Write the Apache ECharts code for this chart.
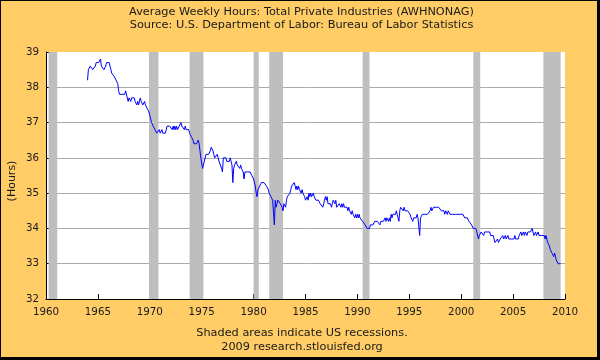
<!DOCTYPE html>
<html><head><meta charset="utf-8">
<script src="https://cdn.jsdelivr.net/npm/echarts@6/dist/echarts.min.js"></script>
<style>html,body{margin:0;padding:0;background:#FFCC66}#c{width:600px;height:360px}</style>
</head><body><div id="c"></div>
<script>
// Monthly average weekly hours, first value = January 1964
const startYear = 1964;
const hours1960s = [
  38.2,38.5,38.5,38.6,38.6,38.6,38.5,38.5,38.5,38.6,38.7,38.7,
  38.7,38.7,38.7,38.8,38.6,38.6,38.6,38.5,38.5,38.6,38.7,38.7,
  38.7,38.7,38.6,38.5,38.4,38.4,38.4,38.3,38.3,38.2,38.2,38.1,
  37.9,37.8,37.8,37.8,37.8,37.8,37.8,37.8,37.9,37.9,37.7,37.6,
  37.7,37.7,37.6,37.7,37.7,37.7,37.7,37.6,37.6,37.5,37.6,37.5,
  37.5,37.7,37.6,37.6,37.5,37.5,37.6,37.5,37.5,37.4,37.4,37.3
];
const hours1970s = [
  37.2,37.1,37.0,37.0,36.9,36.9,36.8,36.8,36.7,36.7,36.7,36.8,
  36.7,36.7,36.8,36.7,36.7,36.7,36.7,36.7,36.9,36.9,36.9,36.9,
  36.9,36.9,36.8,36.9,36.8,36.9,36.8,36.9,36.8,36.8,36.9,36.9,
  37.0,36.9,36.9,36.9,36.8,36.9,36.8,36.8,36.8,36.8,36.7,36.7,
  36.6,36.6,36.5,36.4,36.4,36.4,36.4,36.4,36.5,36.4,36.2,36.0,
  36.0,35.7,35.8,35.9,35.9,36.1,36.1,36.1,36.1,36.1,36.2,36.3,
  36.3,36.2,36.1,36.0,36.0,36.0,36.1,36.0,35.9,35.9,35.9,35.7,
  35.6,36.0,36.0,36.0,36.0,35.9,35.9,35.9,35.9,36.0,35.9,35.8,
  35.3,35.7,35.8,35.8,35.9,35.8,35.8,35.8,35.7,35.8,35.7,35.7,
  35.6,35.4,35.6,35.6,35.6,35.6,35.6,35.6,35.6,35.6,35.5,35.5
];
const hours1980s = [
  35.4,35.4,35.2,35.0,34.9,35.1,35.1,35.2,35.2,35.3,35.3,35.3,
  35.3,35.3,35.3,35.2,35.2,35.1,35.0,35.0,34.9,34.9,34.8,34.8,
  34.1,34.8,34.6,34.7,34.8,34.8,34.8,34.7,34.7,34.6,34.5,34.7,
  34.7,34.6,34.8,34.9,34.9,34.9,35.0,35.1,35.2,35.2,35.2,35.3,
  35.2,35.1,35.2,35.1,35.2,35.1,35.1,35.0,35.1,35.0,35.0,34.9,
  34.8,34.8,34.9,34.8,35.0,34.9,35.0,34.9,34.9,35.0,34.9,34.9,
  34.8,34.8,34.8,34.8,34.8,34.7,34.7,34.7,34.6,34.7,34.8,34.9,
  34.8,34.9,34.7,34.7,34.7,34.7,34.6,34.7,34.8,34.8,34.7,34.8,
  34.6,34.6,34.6,34.7,34.7,34.6,34.7,34.6,34.7,34.6,34.6,34.6,
  34.6,34.5,34.6,34.5,34.5,34.4,34.5,34.4,34.4,34.3,34.4,34.3
];
const hours1990s = [
  34.4,34.3,34.4,34.3,34.3,34.3,34.2,34.2,34.2,34.1,34.1,34.0,
  34.0,34.0,34.0,34.1,34.1,34.1,34.1,34.1,34.2,34.2,34.2,34.2,
  34.2,34.2,34.1,34.2,34.2,34.2,34.2,34.2,34.3,34.2,34.3,34.3,
  34.2,34.3,34.2,34.4,34.3,34.4,34.4,34.4,34.4,34.5,34.4,34.4,
  34.2,34.5,34.6,34.6,34.6,34.5,34.6,34.5,34.5,34.5,34.5,34.5,
  34.5,34.4,34.3,34.3,34.2,34.3,34.3,34.3,34.3,34.4,34.3,34.3,
  33.8,34.3,34.3,34.4,34.4,34.4,34.4,34.4,34.4,34.4,34.4,34.4,
  34.5,34.6,34.5,34.5,34.6,34.6,34.6,34.6,34.6,34.6,34.6,34.6,
  34.6,34.5,34.5,34.5,34.5,34.4,34.5,34.5,34.4,34.5,34.5,34.4,
  34.4,34.4,34.4,34.4,34.4,34.4,34.4,34.4,34.4,34.4,34.4,34.4
];
const hours2000s = [
  34.4,34.4,34.4,34.4,34.3,34.3,34.3,34.3,34.3,34.2,34.2,34.2,
  34.1,34.1,34.0,34.0,34.0,34.0,33.9,33.9,33.7,33.8,33.8,33.9,
  33.9,33.9,33.8,33.9,33.9,33.9,33.9,33.9,33.9,33.9,33.8,33.8,
  33.8,33.8,33.7,33.6,33.6,33.6,33.7,33.6,33.6,33.7,33.7,33.7,
  33.8,33.7,33.7,33.8,33.7,33.7,33.8,33.7,33.7,33.7,33.7,33.7,
  33.7,33.7,33.8,33.7,33.7,33.7,33.7,33.8,33.8,33.9,33.8,33.8,
  33.9,33.8,33.9,33.9,33.8,33.9,33.9,33.9,33.9,33.9,34.0,33.9,
  33.8,33.8,33.9,33.8,33.8,33.9,33.8,33.8,33.8,33.8,33.8,33.8,
  33.8,33.7,33.8,33.7,33.6,33.6,33.5,33.4,33.4,33.3,33.3,33.2,
  33.3,33.2,33.1,33.1,33.0,33.0,33.0,33.0
];
// NBER recessions: [peak month, trough month]
const recessions = [
  ['1960-04','1961-02'],['1969-12','1970-11'],['1973-11','1975-03'],
  ['1980-01','1980-07'],['1981-07','1982-11'],['1990-07','1991-03'],
  ['2001-03','2001-11'],['2007-12','2009-08']
];
const titleLines = ['Average Weekly Hours: Total Private Industries (AWHNONAG)',
  'Source: U.S. Department of Labor: Bureau of Labor Statistics'];
const footerLines = ['Shaded areas indicate US recessions.', '2009 research.stlouisfed.org'];
const yAxisName = '(Hours)';

const allHours = [].concat(hours1960s, hours1970s, hours1980s, hours1990s, hours2000s);
const seriesData = allHours.map((v, i) => [startYear + i / 12, v]);
const toYear = s => { const p = s.split('-'); return +p[0] + (+p[1] - 1) / 12; };

const font = 'DejaVu Sans';
const txt = '#1a1a1a';
const textEl = (s, x, y, rot, size) => ({
  type: 'text', x: x, y: y, rotation: rot || 0, z: 100,
  style: {text: s, fontSize: size || 11.3, fontFamily: font, fill: txt, align: 'center', verticalAlign: 'middle'}
});
const chart = echarts.init(document.getElementById('c'), null, {renderer: 'canvas'});
chart.setOption({
  animation: false,
  backgroundColor: '#FFCC66',
  textStyle: {fontFamily: font},
  graphic: [
    textEl(titleLines[0], 301.5, 12),
    textEl(titleLines[1], 301.5, 25.5),
    textEl(footerLines[0], 302, 333.5),
    textEl(footerLines[1], 302, 347.5),
    textEl(yAxisName, 12.5, 181, Math.PI / 2, 11),
    {type: 'rect', shape: {x: 0, y: 0, width: 600, height: 1}, style: {fill: '#000'}, z: 100},
    {type: 'rect', shape: {x: 0, y: 0, width: 1, height: 360}, style: {fill: '#000'}, z: 100},
    {type: 'rect', shape: {x: 597, y: 0, width: 3, height: 360}, style: {fill: '#000'}, z: 100},
    {type: 'rect', shape: {x: 0, y: 357, width: 600, height: 3}, style: {fill: '#000'}, z: 100}
  ],
  grid: {left: 46, right: 35, top: 52, bottom: 61, show: true, backgroundColor: '#fff', borderWidth: 0},
  xAxis: {
    type: 'value', min: 1960, max: 2010, interval: 5,
    axisLine: {show: true, lineStyle: {color: '#000', width: 1}},
    axisTick: {show: true, inside: true, length: 5, lineStyle: {color: '#000'}},
    axisLabel: {color: txt, fontSize: 10.3, margin: 8, fontFamily: font, formatter: v => String(v)},
    splitLine: {show: false}
  },
  yAxis: {
    type: 'value', min: 32, max: 39, interval: 1,
    axisLine: {show: true, lineStyle: {color: '#000', width: 1}},
    axisTick: {show: true, inside: true, length: 5, lineStyle: {color: '#000'}},
    axisLabel: {color: txt, fontSize: 10.3, margin: 7, fontFamily: font},
    splitLine: {show: true, showMinLine: false, showMaxLine: false, lineStyle: {color: '#AAAAAA', width: 1}}
  },
  series: [
    {type: 'line', data: [], z: 1, silent: true,
     markArea: {silent: true, itemStyle: {color: '#BEBEBE'},
       data: recessions.map(r => [{xAxis: toYear(r[0])}, {xAxis: toYear(r[1])}])}},
    {type: 'line', data: seriesData, z: 3, showSymbol: false, silent: true,
     lineStyle: {color: '#0000FF', width: 1}}
  ]
});
</script></body></html>
